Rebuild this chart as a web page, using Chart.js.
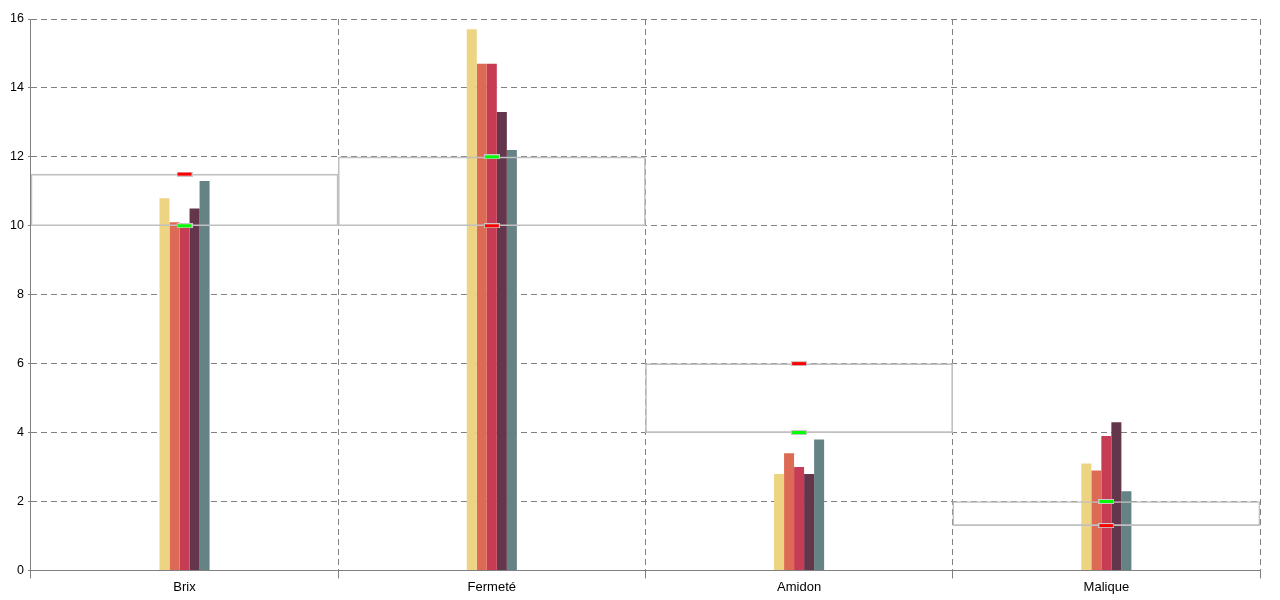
<!DOCTYPE html>
<html>
<head>
<meta charset="utf-8">
<script src="https://cdn.jsdelivr.net/npm/chart.js@4"></script>
<style>
    body { margin: 0; background: #fff; }
    #wrap { width: 1280px; height: 600px; }
</style>
</head>
<body>
<div id="wrap"><canvas id="graphe"></canvas></div>
<script>
var categories = ['Brix', 'Fermeté', 'Amidon', 'Malique'];
var yTicks = [0, 2, 4, 6, 8, 10, 12, 14, 16];

var serie1 = [10.8, 15.7, 2.8, 3.1];
var serie2 = [10.1, 14.7, 3.4, 2.9];
var serie3 = [10.0, 14.7, 3.0, 3.9];
var serie4 = [10.5, 13.3, 2.8, 4.3];
var serie5 = [11.3, 12.2, 3.8, 2.3];

var seuilRouge = [11.5, 10, 6, 1.3];
var seuilVert = [10, 12, 4, 2];

var couleurs = ['#edd482', '#dd6a55', '#c63c55', '#63364b', '#658384'];
var gris = '#808080';

function marqueur(fill) {
    var c = document.createElement('canvas');
    c.width = 16; c.height = 5;
    var ctx = c.getContext('2d');
    ctx.fillStyle = '#c8c8c8';
    ctx.fillRect(0, 0, 16, 5);
    ctx.fillStyle = fill;
    ctx.fillRect(1, 1, 14, 3);
    return c;
}

var boites = seuilRouge.map(function (r, i) {
    return [Math.min(r, seuilVert[i]), Math.max(r, seuilVert[i])];
});

function barre(data, i) {
    return {
        type: 'bar', data: data, backgroundColor: couleurs[i],
        categoryPercentage: 0.163, barPercentage: 1, borderWidth: 0
    };
}

document.addEventListener('DOMContentLoaded', function () {
    var ctx = document.getElementById('graphe').getContext('2d');
    new Chart(ctx, {
        type: 'bar',
        data: {
            labels: categories,
            datasets: [
                { type: 'line', data: seuilVert, showLine: false, pointStyle: marqueur('#00ff00'), pointRadius: 8, pointHoverRadius: 8 },
                { type: 'line', data: seuilRouge, showLine: false, pointStyle: marqueur('#ff0000'), pointRadius: 8, pointHoverRadius: 8 },
                {
                    type: 'bar', data: boites, grouped: false, categoryPercentage: 1, barPercentage: 1,
                    backgroundColor: 'rgba(0,0,0,0)', borderColor: '#c0c0c0', borderWidth: 1, borderSkipped: false
                },
                barre(serie1, 0),
                barre(serie2, 1),
                barre(serie3, 2),
                barre(serie4, 3),
                barre(serie5, 4)
            ]
        },
        options: {
            responsive: true, maintainAspectRatio: false, animation: false,
            layout: { padding: { top: 19, right: 20, bottom: 4, left: 6 } },
            plugins: { legend: { display: false }, tooltip: { enabled: false } },
            scales: {
                x: {
                    grid: { color: gris, tickLength: 8, tickColor: gris },
                    border: { color: gris, dash: [6, 4] },
                    ticks: { color: '#000', padding: 1, font: { family: 'Liberation Sans', size: 13 } }
                },
                y: {
                    min: 0, max: 16,
                    afterBuildTicks: function (s) { s.ticks = yTicks.map(function (v) { return { value: v }; }); },
                    grid: { color: gris, tickLength: 3, tickColor: gris },
                    border: { color: gris, dash: [6, 4] },
                    ticks: { color: '#000', padding: 4, font: { family: 'Liberation Sans', size: 12.5 } }
                }
            }
        }
    });
});
</script>
</body>
</html>
